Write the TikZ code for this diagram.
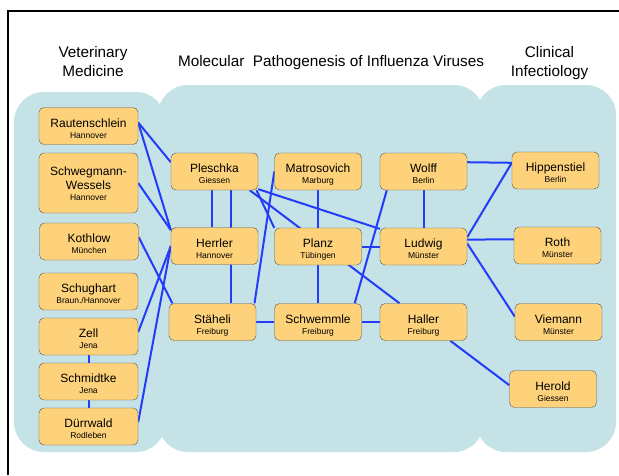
\documentclass[tikz,border=0pt]{standalone}
\usepackage{fontspec}
\setmainfont{Liberation Sans}
\usetikzlibrary{positioning}

\definecolor{groupblue}{RGB}{197,226,230}
\definecolor{boxfill}{RGB}{254,210,122}
\definecolor{boxline}{RGB}{85,85,85}
\definecolor{linkblue}{RGB}{35,60,250}
\newcommand{\town}[1]{{\fontsize{8.5}{11.4}\selectfont #1}}

\pgfdeclarelayer{groups}
\pgfdeclarelayer{wires}
\pgfsetlayers{groups,wires,main}

\begin{document}
\begin{tikzpicture}[x = 1pt, y = -1pt,
  person/.style = {draw = boxline, fill = boxfill, rounded corners = 5pt,
    minimum width = 87pt, minimum height = 37pt, inner sep = 0pt,
    align = center, font = \fontsize{12}{11.4}\selectfont,
    text height = 24.8pt, text depth = 0pt},
  wideperson/.style = {person, minimum width = 99pt},
  link/.style = {draw = linkblue, line width = 2pt},
  group/.style = {fill = groupblue, rounded corners = 30pt},
  heading/.style = {align = center, font = \fontsize{15.3}{19}\selectfont}]
\useasboundingbox (0,0) rectangle (619,475);
\draw[line width = 2.5pt] (8,475) -- (8,11) -- (619,11);

\begin{pgfonlayer}{groups}
\fill[group] (14,92) rectangle (166,452);
\fill[group] (158,85) rectangle (484,452);
\fill[group] (476,85) rectangle (616,452);
\end{pgfonlayer}

\node[heading] (vet) at (93,62) {Veterinary\\Medicine};
\node[heading] (mol) at (331,62.5) {Molecular~ Pathogenesis of Influenza Viruses};
\node[heading] (cli) at (549.5,63) {Clinical\\Infectiology};

% veterinary medicine
\node[wideperson] (rau) at (88.5,126) {Rautenschlein\\\town{Hannover}};
\node[wideperson, minimum height = 60pt, text height = 35.4pt] (sw) at (88.5,183) {Schwegmann-\\[2pt]Wessels\\\town{Hannover}};
\node[wideperson] (kot) at (89,241.5) {Kothlow\\\town{München}};
\node[wideperson] (sch) at (88.5,291.5) {Schughart\\\town{Braun./Hannover}};
\node[wideperson] (zel) at (88.5,336.5) {Zell\\\town{Jena}};
\node[wideperson] (smk) at (88.5,381.5) {Schmidtke\\\town{Jena}};
\node[wideperson] (dur) at (88.5,426.5) {Dürrwald\\\town{Rodleben}};

% molecular pathogenesis
\node[person] (ple) at (214.5,171.5) {Pleschka\\\town{Giessen}};
\node[person] (her) at (214.5,246) {Herrler\\\town{Hannover}};
\node[person] (sta) at (212.5,322) {Stäheli\\\town{Freiburg}};
\node[person] (mat) at (318,171.5) {Matrosovich\\\town{Marburg}};
\node[person] (pla) at (318,246.5) {Planz\\\town{Tübingen}};
\node[person] (swm) at (318,322) {Schwemmle\\\town{Freiburg}};
\node[person] (wol) at (423.5,171.5) {Wolff\\\town{Berlin}};
\node[person] (lud) at (423.5,246.5) {Ludwig\\\town{Münster}};
\node[person] (hal) at (423.5,322) {Haller\\\town{Freiburg}};

% clinical infectiology
\node[person] (hip) at (555.5,170.5) {Hippenstiel\\\town{Berlin}};
\node[person] (rot) at (557.5,245.5) {Roth\\\town{Münster}};
\node[person] (vie) at (558.5,322) {Viemann\\\town{Münster}};
\node[person] (hro) at (553,389) {Herold\\\town{Giessen}};

\begin{pgfonlayer}{wires}
\draw[link] (rau.4) -- (ple.168);
\draw[link] (rau.4) -- (her.160);
\draw[link] (sw.east) -- (her.160);
\draw[link] (kot.5) -- (sta.155);
\draw[link] (zel.5) -- (her.west);
\draw[link] (dur.5) -- (her.west);
\draw[link] (zel.south) -- (smk.north);
\draw[link] (smk.south) -- (dur.north);
\draw[link] ([xshift=-2.5pt]ple.south) -- ([xshift=-2.5pt]her.north);
\draw[link] ([xshift=16.5pt]ple.south) -- ([xshift=18.5pt]sta.north);
\draw[link] (sta.24) -- (mat.west);
\draw[link] (sta.east) -- (swm.west);
\draw[link] (ple.-28) -- (hal.142);
\draw[link] (ple.-24) -- (pla.157);
\draw[link] (ple.-22) -- (lud.158);
\draw[link] (mat.south) -- (pla.north);
\draw[link] (pla.south) -- (swm.north);
\draw[link] (pla.east) -- (lud.west);
\draw[link] (wol.207) -- (swm.27);
\draw[link] (wol.south) -- (lud.north);
\draw[link] (swm.east) -- (hal.west);
\draw[link] (wol.12) -- (hip.170);
\draw[link] (lud.12) -- (hip.170);
\draw[link] (lud.9) -- (rot.172);
\draw[link] (lud.4) -- (vie.173);
\draw[link] (hal.-35) -- (hro.175);
\end{pgfonlayer}
\end{tikzpicture}
\end{document}
